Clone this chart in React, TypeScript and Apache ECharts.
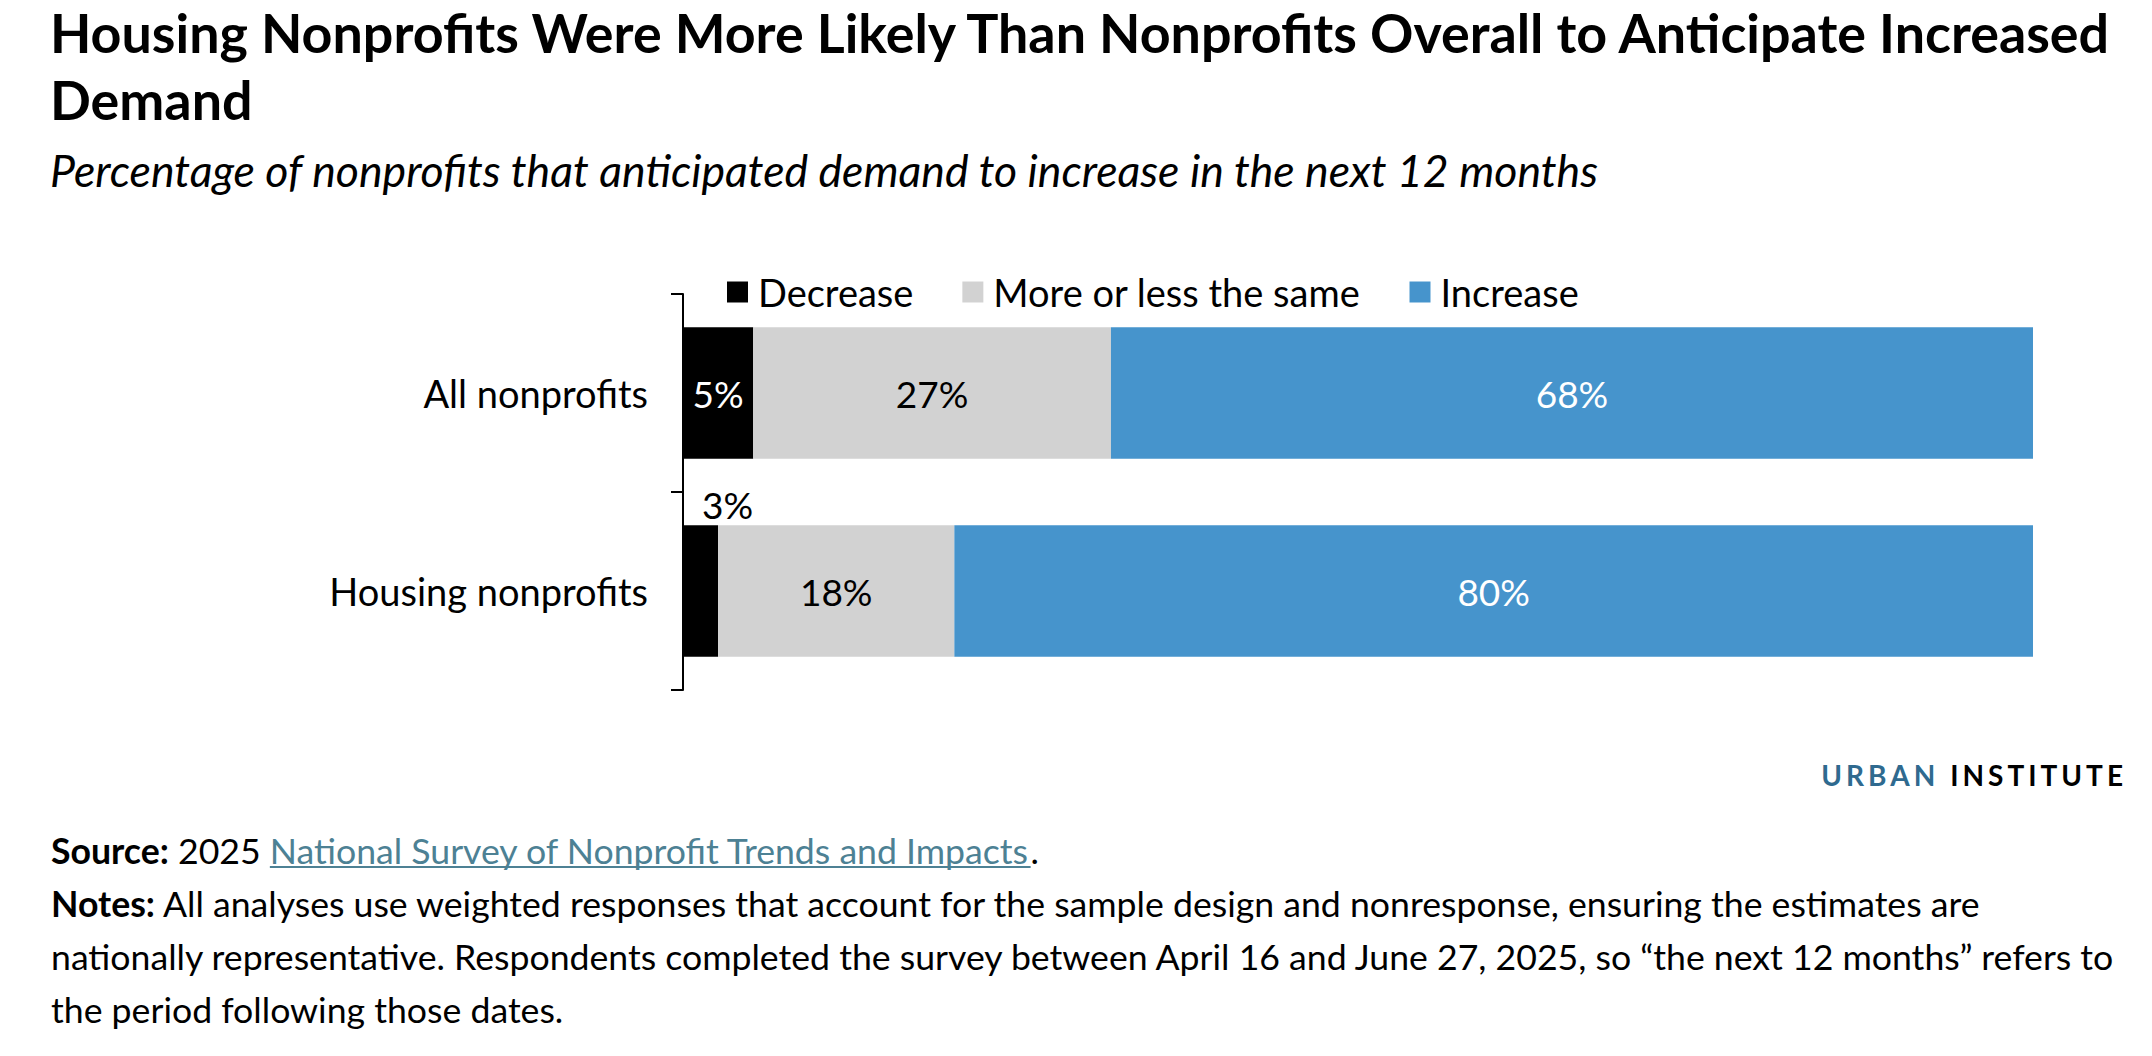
import React, { useEffect, useRef } from 'react';
import * as echarts from 'echarts';

const W = 2152;
const H = 1056;
const FONT = 'Lato';

const categories = ['All nonprofits', 'Housing nonprofits'];
const seriesNames = ['Decrease', 'More or less the same', 'Increase'];
const decreaseValues = [5.2, 2.6];
const sameValues = [26.5, 17.5];
const increaseValues = [68.3, 79.9];
const seriesColors = ['#000000', '#d2d2d2', '#4694cc'];
const labelColors = ['#ffffff', '#000000', '#ffffff'];

const titleLines = [
  'Housing Nonprofits Were More Likely Than Nonprofits Overall to Anticipate Increased',
  'Demand',
];
const subtitleText = 'Percentage of nonprofits that anticipated demand to increase in the next 12 months';
const brandFirst = 'URBAN';
const brandSecond = 'INSTITUTE';
const sourceLabel = 'Source:';
const sourcePrefix = ' 2025 ';
const sourceLink = 'National Survey of Nonprofit Trends and Impacts';
const notesLabel = 'Notes:';
const notesLines = [
  ' All analyses use weighted responses that account for the sample design and nonresponse, ensuring the estimates are',
  'nationally representative. Respondents completed the survey between April 16 and June 27, 2025, so \u201cthe next 12 months\u201d refers to',
  'the period following those dates.',
];

function textWidth(text: string, font: string): number {
  const ctx = document.createElement('canvas').getContext('2d');
  if (!ctx) return 0;
  ctx.font = font;
  return ctx.measureText(text).width;
}

function spaced(word: string, style: string): string {
  return word
    .split('')
    .map((ch) => `{${style}|${ch}}`)
    .join('');
}

export default function App() {
  const ref = useRef<HTMLDivElement>(null);

  useEffect(() => {
    document.body.style.margin = '0';
    document.body.style.overflow = 'hidden';
    if (!ref.current) return;
    const chart = echarts.init(ref.current, undefined, { renderer: 'svg' });

    const footFs = 35.65;
    const srcX = 51;
    const linkStart =
      srcX +
      textWidth(sourceLabel, `bold ${footFs}px ${FONT}`) +
      textWidth(sourcePrefix, `${footFs}px ${FONT}`);
    const linkEnd = linkStart + textWidth(sourceLink, `${footFs}px ${FONT}`);

    const values = [decreaseValues, sameValues, increaseValues];
    const brandFs = 28;
    const brandText =
      spaced(brandFirst, 'u') + '{s| }' + spaced(brandSecond.slice(0, -1), 'i') + `{e|${brandSecond.slice(-1)}}`;

    chart.setOption({
      animation: false,
      backgroundColor: '#ffffff',
      textStyle: { fontFamily: FONT },
      grid: { left: 683, right: 119, top: 294, bottom: 366, containLabel: false },
      legend: {
        left: 722,
        top: 267,
        icon: 'rect',
        itemWidth: 21,
        itemHeight: 21,
        itemGap: 49,
        selectedMode: false,
        data: seriesNames,
        textStyle: { fontSize: 38, lineHeight: 40, fontFamily: FONT, color: '#000', padding: [0, 0, 0, 5] },
      },
      xAxis: { type: 'value', min: 0, max: 100, show: false },
      yAxis: {
        type: 'category',
        data: categories,
        inverse: true,
        axisLine: { show: true, lineStyle: { color: '#000', width: 2 } },
        axisTick: { show: true, length: 12, lineStyle: { color: '#000', width: 2 } },
        axisLabel: { fontSize: 38, fontFamily: FONT, color: '#000', margin: 35 },
      },
      series: values.map((vals, i) => ({
        type: 'bar',
        name: seriesNames[i],
        stack: 'total',
        barCategoryGap: '33.5%',
        itemStyle: { color: seriesColors[i] },
        emphasis: { disabled: true },
        label: {
          show: true,
          position: 'inside',
          color: labelColors[i],
          fontSize: 37,
          fontFamily: FONT,
          formatter: (p: any) => Math.round(p.value) + '%',
        },
        data: vals.map((v) =>
          v < 4
            ? {
                value: v,
                label: {
                  position: [19, -21],
                  align: 'left',
                  verticalAlign: 'middle',
                  color: '#000',
                },
              }
            : v
        ),
      })),
      graphic: [
        {
          type: 'text',
          x: 50,
          y: 32,
          style: {
            text: titleLines[0],
            fontSize: 53.8,
            fontWeight: 'bold',
            fontFamily: FONT,
            fill: '#000',
            verticalAlign: 'middle',
          },
        },
        {
          type: 'text',
          x: 50,
          y: 99,
          style: {
            text: titleLines[1],
            fontSize: 53.8,
            fontWeight: 'bold',
            fontFamily: FONT,
            fill: '#000',
            verticalAlign: 'middle',
          },
        },
        {
          type: 'text',
          x: 50,
          y: 169,
          style: {
            text: subtitleText,
            fontSize: 44.6,
            fontStyle: 'italic',
            fontFamily: FONT,
            fill: '#000',
            verticalAlign: 'middle',
          },
        },
        {
          type: 'text',
          x: 2123,
          y: 775,
          style: {
            text: brandText,
            align: 'right',
            verticalAlign: 'middle',
            fontSize: brandFs,
            fontWeight: 'bold',
            fontFamily: FONT,
            rich: {
              u: { fill: '#2f6a8f', fontSize: brandFs, fontWeight: 'bold', fontFamily: FONT, padding: [0, 4, 0, 0] },
              s: { fill: '#000', fontSize: brandFs, fontWeight: 'bold', fontFamily: FONT, padding: [0, 4, 0, 0] },
              i: { fill: '#000', fontSize: brandFs, fontWeight: 'bold', fontFamily: FONT, padding: [0, 4, 0, 0] },
              e: { fill: '#000', fontSize: brandFs, fontWeight: 'bold', fontFamily: FONT },
            },
          },
        },
        {
          type: 'text',
          x: srcX,
          y: 850,
          style: {
            text: `{b|${sourceLabel}}{r|${sourcePrefix}}{l|${sourceLink}}{r|.}`,
            fontSize: footFs,
            fontFamily: FONT,
            verticalAlign: 'middle',
            rich: {
              b: { fill: '#000', fontWeight: 'bold', fontSize: footFs, fontFamily: FONT },
              r: { fill: '#000', fontSize: footFs, fontFamily: FONT },
              l: { fill: '#4d8194', fontSize: footFs, fontFamily: FONT },
            },
          },
        },
        {
          type: 'line',
          shape: { x1: linkStart, y1: 867, x2: linkEnd, y2: 867 },
          style: { stroke: '#4d8194', lineWidth: 2 },
        },
        {
          type: 'text',
          x: srcX,
          y: 903,
          style: {
            text: `{b|${notesLabel}}{r|${notesLines[0]}}`,
            fontSize: footFs,
            fontFamily: FONT,
            verticalAlign: 'middle',
            rich: {
              b: { fill: '#000', fontWeight: 'bold', fontSize: footFs, fontFamily: FONT },
              r: { fill: '#000', fontSize: footFs, fontFamily: FONT },
            },
          },
        },
        {
          type: 'text',
          x: srcX,
          y: 956,
          style: { text: notesLines[1], fontSize: footFs, fontFamily: FONT, fill: '#000', verticalAlign: 'middle' },
        },
        {
          type: 'text',
          x: srcX,
          y: 1009,
          style: { text: notesLines[2], fontSize: footFs, fontFamily: FONT, fill: '#000', verticalAlign: 'middle' },
        },
      ],
    });

    return () => chart.dispose();
  }, []);

  return <div ref={ref} style={{ width: W, height: H }} />;
}
